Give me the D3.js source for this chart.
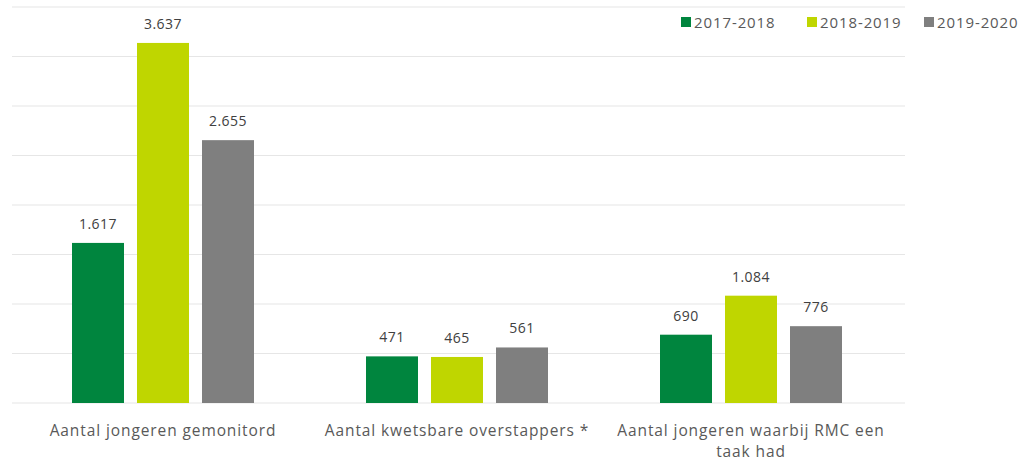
<!DOCTYPE html>
<html>
<head>
<meta charset="utf-8">
<script src="https://cdn.jsdelivr.net/npm/d3@7"></script>
<style>
  body { margin: 0; background: #fff; }
  text { font-family: "Open Sans", "Noto Sans", sans-serif; }
</style>
</head>
<body>
<svg id="chart" width="1024" height="461"></svg>
<script>
// data
const categories = [
  ["Aantal jongeren gemonitord"],
  ["Aantal kwetsbare overstappers *"],
  ["Aantal jongeren waarbij RMC een", "taak had"]
];
const seriesNames = ["2017-2018", "2018-2019", "2019-2020"];
const seriesValues = [
  [1617, 471, 690],
  [3637, 465, 1084],
  [2655, 561, 776]
];
const yTicks = [0, 500, 1000, 1500, 2000, 2500, 3000, 3500, 4000];

const colors = ["#00853e", "#bfd600", "#7f7f7f"];
const svg = d3.select("#chart");

const nl = d3.formatLocale({ decimal: ",", thousands: ".", grouping: [3], currency: ["€", ""] });
const fmt = nl.format(",d");

const x0 = d3.scaleBand()
  .domain(d3.range(categories.length))
  .range([16, 898]);

const x1 = d3.scaleBand()
  .domain(d3.range(seriesNames.length))
  .range([56, 238])
  .paddingInner(0.2);

const y = d3.scaleLinear()
  .domain([0, 4000])
  .range([403, 7]);

// grid lines
svg.append("g")
  .selectAll("line")
  .data(yTicks)
  .enter().append("line")
  .attr("x1", 12)
  .attr("x2", 905)
  .attr("y1", d => y(d))
  .attr("y2", d => y(d))
  .attr("stroke", "#e6e6e6")
  .attr("stroke-width", 1.2);

// bars
const groups = svg.append("g")
  .selectAll("g")
  .data(categories)
  .enter().append("g")
  .attr("transform", (d, i) => "translate(" + x0(i) + ",0)");

groups.selectAll("rect")
  .data((d, i) => seriesValues.map((s, j) => ({ s: j, v: s[i] })))
  .enter().append("rect")
  .attr("x", d => x1(d.s))
  .attr("y", d => y(d.v))
  .attr("width", x1.bandwidth())
  .attr("height", d => y(0) - y(d.v))
  .attr("fill", d => colors[d.s]);

groups.selectAll("text.val")
  .data((d, i) => seriesValues.map((s, j) => ({ s: j, v: s[i] })))
  .enter().append("text")
  .attr("class", "val")
  .attr("x", d => x1(d.s) + x1.bandwidth() / 2)
  .attr("y", d => y(d.v) - 14)
  .attr("text-anchor", "middle")
  .attr("font-size", 14)
  .attr("letter-spacing", 0.5)
  .attr("fill", "#404040")
  .text(d => fmt(d.v));

// category labels
const labels = svg.append("g")
  .selectAll("text")
  .data(categories)
  .enter().append("text")
  .attr("x", (d, i) => x0(i) + x0.bandwidth() / 2)
  .attr("y", 436)
  .attr("text-anchor", "middle")
  .attr("font-size", 15.5)
  .attr("letter-spacing", 0.9)
  .attr("fill", "#595959");

labels.selectAll("tspan")
  .data(d => d)
  .enter().append("tspan")
  .attr("x", function() { return d3.select(this.parentNode).attr("x"); })
  .attr("dy", (d, i) => i === 0 ? 0 : 21)
  .text(d => d);

// legend
const legendX = [681, 807, 924];
const legend = svg.append("g")
  .selectAll("g")
  .data(seriesNames)
  .enter().append("g")
  .attr("transform", (d, i) => "translate(" + legendX[i] + ",17)");

legend.append("rect")
  .attr("width", 10)
  .attr("height", 10)
  .attr("fill", (d, i) => colors[i]);

legend.append("text")
  .attr("x", 13)
  .attr("y", 10.5)
  .attr("font-size", 15)
  .attr("letter-spacing", 0.9)
  .attr("fill", "#595959")
  .text(d => d);
</script>
</body>
</html>
